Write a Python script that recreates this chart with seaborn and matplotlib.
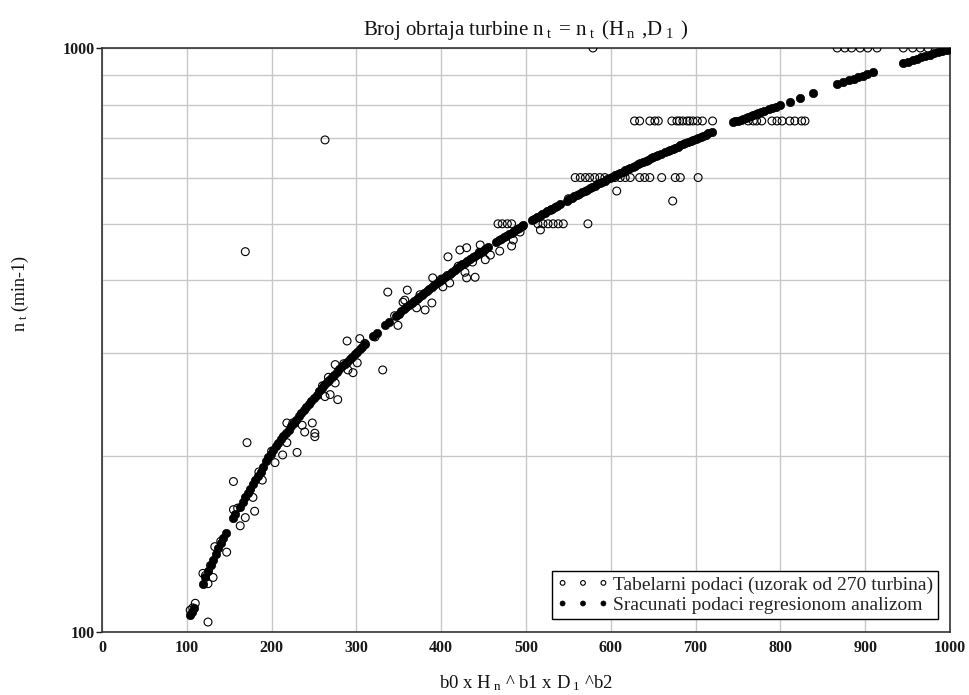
import numpy as np
import pandas as pd
import matplotlib
matplotlib.use("Agg")
import matplotlib.pyplot as plt
import seaborn as sns
from matplotlib.ticker import FixedLocator, NullFormatter, FixedFormatter

# ---------------- data ----------------
# Tabular data (open circles)
tab_x = [579, 867, 876, 884, 894, 903, 914, 945, 956, 965, 974,
         628, 634, 646, 652, 656, 672, 678, 681, 685, 690, 693, 697, 702, 708, 720,
         762, 768, 772, 778, 790, 796, 802, 811, 817, 825, 829,
         558, 564, 570, 575, 581, 587, 593, 605, 611, 617, 623, 634, 640, 646, 660, 676, 682, 703,
         607, 673,
         467, 472, 478, 483, 514, 520, 526, 532, 538, 544, 573, 517,
         360, 357, 390, 389, 408, 422, 430, 446, 458, 452, 437, 428, 430, 440, 402, 410,
         469, 483, 485, 493,
         337, 355, 371, 381, 349, 289, 304, 322, 331, 275, 267, 275, 301, 296, 290,
         269, 278, 263, 248, 218, 236,
         171, 155, 155, 169, 163, 180, 178, 189, 204, 213, 230, 218, 239, 251, 251,
         133, 147, 119, 131, 125, 107, 104, 125,
         169, 263,
         110, 122, 128, 140, 160, 185, 200, 225, 260, 285, 310, 345, 375, 400, 420,
         445, 530, 550]
tab_y = [1000, 1000, 1000, 1000, 1000, 1000, 1000, 1000, 1000, 1000, 1000,
         750, 750, 750, 750, 750, 750, 750, 750, 750, 750, 750, 750, 750, 750, 750,
         750, 750, 750, 750, 750, 750, 750, 750, 750, 750, 750,
         600, 600, 600, 600, 600, 600, 600, 600, 600, 600, 600, 600, 600, 600, 600, 600, 600, 600,
         569, 547,
         500, 500, 500, 500, 500, 500, 500, 500, 500, 500, 500, 488,
         385, 370, 404, 366, 439, 451, 455, 460, 442, 434, 430, 413, 404, 405, 390, 396,
         449, 458, 469, 484,
         382, 367, 359, 356, 335, 315, 318, 320, 281, 287, 273, 267, 289, 278, 281,
         255, 250, 253, 228, 228, 226,
         211, 181, 162, 157, 152, 161, 170, 182, 195, 201, 203, 211, 220, 219, 216,
         140, 137, 126, 124, 121, 110, 109, 104,
         448, 696,
         112, 125, 130, 143, 163, 188, 204, 228, 264, 288, 312, 348, 378, 402, 423,
         447, 529, 552]

# Regression values (filled circles)
reg_x = [104, 106, 108,
         119, 122, 125, 128, 131, 134, 137, 140, 143, 146,
         155, 157,
         163, 166, 169, 172, 175, 178, 181, 184, 187, 190, 193, 196, 199, 202, 205, 208,
         211, 214, 217, 220, 223, 226, 229, 232, 235, 238, 241, 244, 247, 250, 253, 256,
         259, 262, 265, 268, 271, 274, 277, 280, 283, 286, 289, 292, 295, 298, 301, 304,
         307, 310,
         320, 324,
         334, 338,
         347, 350, 353, 356, 359, 362, 365, 368, 371, 374, 377, 380, 383, 386, 389, 392,
         395, 398, 401, 404, 407, 410, 413, 416, 419, 422, 425, 428, 431, 434, 437, 440,
         443, 446, 449, 452, 455,
         465, 468, 471, 474, 477, 480, 483, 486, 489, 492, 495, 497,
         507, 510, 513, 516, 519, 522, 525, 528, 531, 534, 537, 540,
         548, 551, 554, 557, 560, 563, 566, 569, 572, 575, 578, 581, 584, 587, 590, 593,
         596, 599, 602, 605, 608, 611, 614, 617, 620, 623, 626, 629, 632, 635, 638, 641,
         644, 647, 650, 653, 656, 659,
         664, 667, 670, 673, 676, 679, 682, 685, 688, 691, 694, 697, 700, 703, 706, 709,
         712, 715, 719,
         744, 747, 750, 753, 756, 759, 762, 765, 768, 771, 774, 777, 781, 786, 790, 795,
         800, 811, 823, 838,
         867, 874, 881, 887, 892, 897, 902, 909,
         945, 950, 956, 961, 966, 971, 976, 981, 986, 991, 996]
reg_y = [107, 108, 110,
         121, 124, 127, 130, 133, 136, 139, 142, 145, 148,
         157, 159,
         164, 167, 170, 173, 176, 179, 182, 185, 188, 192, 196, 199, 202, 205, 208, 211,
         214, 217, 219, 222, 225, 228, 231, 234, 237, 240, 243, 246, 249, 252, 255, 259,
         262, 265, 268, 270, 273, 276, 279, 282, 285, 288, 290, 293, 296, 299, 302, 305,
         308, 311,
         321, 325,
         335, 339,
         348, 351, 354, 357, 360, 363, 366, 369, 372, 375, 378, 381, 384, 387, 390, 393,
         396, 399, 402, 405, 408, 411, 414, 417, 420, 423, 426, 429, 432, 435, 438, 441,
         444, 447, 450, 453, 456,
         466, 469, 471, 474, 477, 480, 483, 486, 489, 492, 495, 497,
         507, 510, 513, 516, 519, 522, 525, 528, 531, 534, 537, 540,
         548, 551, 554, 557, 560, 563, 566, 569, 572, 575, 578, 581, 584, 587, 590, 593,
         596, 599, 602, 605, 608, 611, 614, 617, 620, 623, 626, 629, 632, 635, 638, 641,
         644, 647, 650, 653, 656, 659,
         663, 666, 669, 672, 675, 678, 681, 684, 687, 690, 693, 696, 699, 702, 705, 708,
         711, 714, 718,
         746, 749, 751, 754, 757, 759, 762, 765, 768, 771, 773, 776, 780, 785, 789, 794,
         799, 809, 822, 838,
         868, 874, 880, 886, 891, 896, 901, 908,
         943, 948, 954, 959, 964, 969, 974, 979, 984, 989, 994]

x_ticks = [0, 100, 200, 300, 400, 500, 600, 700, 800, 900, 1000]
y_major = [100, 1000]
y_minor = [200, 300, 400, 500, 600, 700, 800, 900]

label_tab = "Tabelarni podaci (uzorak od 270 turbina)"
label_reg = "Sracunati podaci regresionom analizom"

# ---------------- styling ----------------
sns.set_theme(style="white")
plt.rcParams["font.family"] = ["Liberation Serif", "DejaVu Serif"]
plt.rcParams["mathtext.fontset"] = "custom"
plt.rcParams["mathtext.rm"] = "Liberation Serif"
plt.rcParams["mathtext.it"] = "Liberation Serif:italic"
plt.rcParams["mathtext.bf"] = "Liberation Serif:bold"

fig = plt.figure(figsize=(9.69, 6.95), dpi=100)
ax = fig.add_axes([102 / 969, 63 / 695, 848 / 969, 584 / 695])

df_tab = pd.DataFrame({"x": tab_x, "y": tab_y})
df_reg = pd.DataFrame({"x": reg_x, "y": reg_y})

sns.scatterplot(data=df_tab, x="x", y="y", ax=ax, marker="o", s=32,
                facecolors="none", edgecolor="black", linewidth=0.8,
                label=label_tab, zorder=3)
sns.scatterplot(data=df_reg, x="x", y="y", ax=ax, marker="o", s=36,
                color="black", edgecolor="black", linewidth=0.5,
                label=label_reg, zorder=4)

ax.set_yscale("log")
ax.set_xlim(0, 1000)
ax.set_ylim(100, 1000)

ax.xaxis.set_major_locator(FixedLocator(x_ticks))
ax.set_xticklabels([str(t) for t in x_ticks])
ax.yaxis.set_major_locator(FixedLocator(y_major))
ax.yaxis.set_major_formatter(FixedFormatter([str(t) for t in y_major]))
ax.yaxis.set_minor_locator(FixedLocator(y_minor))
ax.yaxis.set_minor_formatter(NullFormatter())

ax.grid(True, which="major", axis="x", color="#c8c8c8", linewidth=1.0)
ax.grid(True, which="both", axis="y", color="#c8c8c8", linewidth=1.0)
ax.set_axisbelow(True)

ax.tick_params(axis="x", which="both", length=0, pad=6, labelsize=11.5,
               colors="#1a1a1a")
ax.tick_params(axis="y", which="major", length=4, width=1, pad=1,
               labelsize=11.5, colors="#1a1a1a", left=True)
ax.tick_params(axis="y", which="minor", length=0)
for lbl in ax.get_xticklabels() + ax.get_yticklabels():
    lbl.set_fontweight("bold")

for sp in ax.spines.values():
    sp.set_visible(True)
    sp.set_color("#333333")
    sp.set_linewidth(1.2)

ax.set_title(r"Broj obrtaja turbine n$_{\ \mathrm{t}\,}$ = n$_{\ \mathrm{t}\,}$ "
             r"(H$_{\ \mathrm{n}\,}$ ,D$_{\ \mathrm{1}\,}$ )",
             fontsize=15, pad=9, color="#111111")
ax.set_xlabel(r"b0 x H$_{\ \mathrm{n}}$ ^ b1 x D$_{\ \mathrm{1}}$ ^b2", fontsize=13.5,
              labelpad=12, color="#111111")
ax.set_ylabel(r"n$_{\ \mathrm{t}}$ (min-1)", fontsize=13, color="#111111")
ax.yaxis.set_label_coords(-0.084, 0.58)

leg = ax.legend(loc="lower right", bbox_to_anchor=(0.986, 0.022),
                borderaxespad=0, scatterpoints=3, scatteryoffsets=[0.5],
                markerscale=0.6,
                fontsize=14, frameon=True, fancybox=False, framealpha=1,
                edgecolor="black", handletextpad=0.2, borderpad=0.25,
                labelspacing=0.15, handlelength=2.7)
leg.get_frame().set_linewidth(1.0)

fig.savefig("out.png", dpi=100)
